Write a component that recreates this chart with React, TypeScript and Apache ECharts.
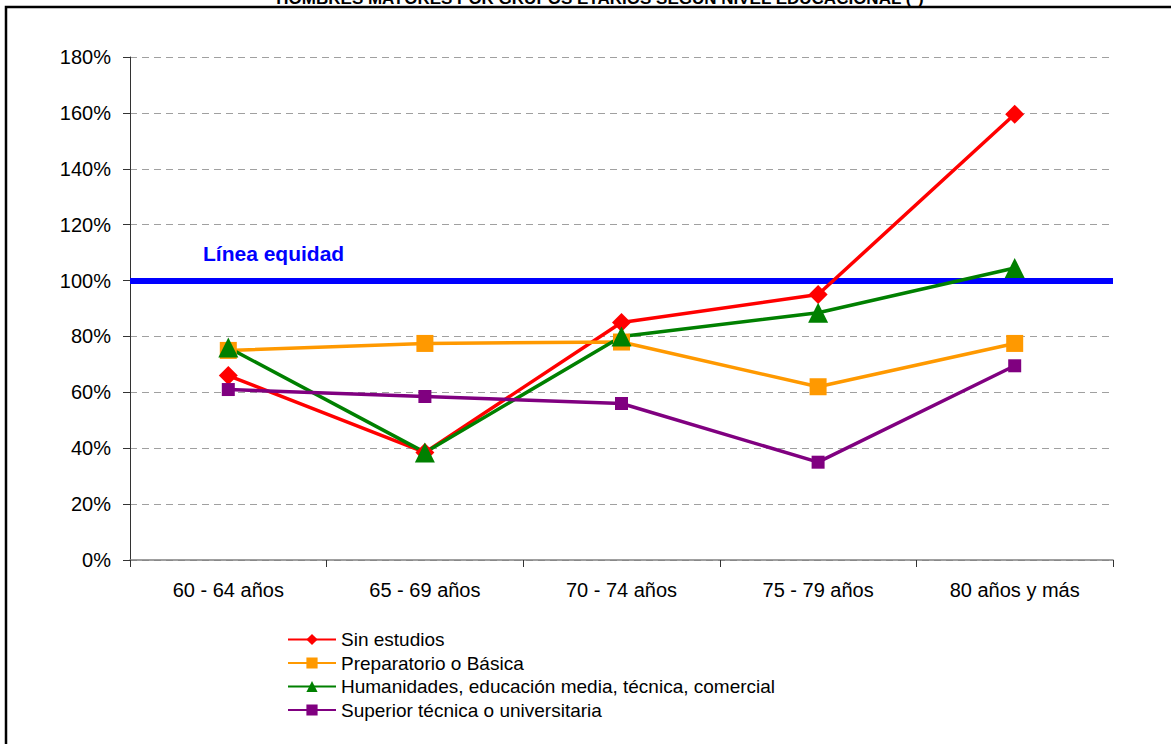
import React, { useEffect, useRef } from "react";
import * as echarts from "echarts";

const categories = ["60 - 64 años", "65 - 69 años", "70 - 74 años", "75 - 79 años", "80 años y más"];
const sinEstudios = [66, 38.5, 85, 95, 159.5];
const preparatorio = [75, 77.5, 78, 62, 77.5];
const humanidades = [76, 38.5, 80, 88.5, 104.5];
const superior = [61, 58.5, 56, 35, 69.5];
const equidad = 100;
const yTicks = [0, 20, 40, 60, 80, 100, 120, 140, 160, 180];

const FONT = "'Liberation Sans', Arial, sans-serif";

export default function App() {
  const ref = useRef<HTMLDivElement>(null);
  useEffect(() => {
    if (!ref.current) return;
    const chart = echarts.init(ref.current, null, { renderer: "svg" });
    const mk = (name: string, data: number[], color: string, symbol: string, size: number, extra: any = {}) => ({
      name,
      type: "line",
      data,
      symbol,
      symbolSize: size,
      lineStyle: { color, width: 3.5 },
      itemStyle: { color },
      z: 3,
      ...extra,
    });
    chart.setOption({
      animation: false,
      textStyle: { fontFamily: FONT },
      graphic: [
        {
          type: "rect",
          shape: { x: 6, y: 7, width: 1300, height: 900 },
          style: { fill: "none", stroke: "#000", lineWidth: 2.5 },
          z: 10,
        },
        {
          type: "text",
          x: 600,
          y: -10,
          style: {
            text: "HOMBRES MAYORES POR GRUPOS ETARIOS SEGÚN NIVEL EDUCACIONAL (*)",
            fill: "#000",
            font: `bold 17px ${FONT}`,
            textAlign: "center",
          },
        },
        {
          type: "text",
          x: 203,
          y: 243,
          style: {
            text: "Línea equidad",
            fill: "#0000ff",
            font: `bold 21px ${FONT}`,
          },
          z: 20,
        },
      ],
      grid: { left: 130, right: 58, top: 57, bottom: 184 },
      legend: {
        orient: "vertical",
        left: 287,
        top: 630,
        padding: 0,
        itemWidth: 48,
        itemHeight: 14,
        itemGap: 4.5,
        textStyle: { fontSize: 19, color: "#000", fontFamily: FONT, lineHeight: 18 },
        data: [
          "Sin estudios",
          "Preparatorio o Básica",
          "Humanidades, educación media, técnica, comercial",
          "Superior técnica o universitaria",
        ],
      },
      xAxis: {
        type: "category",
        data: categories,
        boundaryGap: true,
        axisLine: { lineStyle: { color: "#808080", width: 1.5 } },
        axisTick: { show: true, length: 7, lineStyle: { color: "#333" }, alignWithLabel: false },
        axisLabel: { fontSize: 20, color: "#000", margin: 20, fontFamily: FONT },
      },
      yAxis: {
        type: "value",
        min: yTicks[0],
        max: yTicks[yTicks.length - 1],
        interval: 20,
        axisLine: { show: true, lineStyle: { color: "#333" } },
        axisTick: { show: true, length: 7, lineStyle: { color: "#333" } },
        axisLabel: { fontSize: 20, color: "#000", margin: 19, formatter: "{value}%", fontFamily: FONT },
        splitLine: { lineStyle: { color: "#a0a0a0", type: [7, 5] } },
      },
      series: [
        mk("Sin estudios", sinEstudios, "#ff0000", "diamond", 19, {
          markLine: {
            silent: true,
            symbol: "none",
            label: { show: false },
            lineStyle: { color: "#0000ff", width: 6, type: "solid" },
            data: [{ yAxis: equidad }],
            z: 1,
          },
        }),
        mk("Preparatorio o Básica", preparatorio, "#ff9900", "rect", 17),
        mk("Humanidades, educación media, técnica, comercial", humanidades, "#008000", "triangle", 20),
        mk("Superior técnica o universitaria", superior, "#800080", "rect", 13),
      ],
    });
    return () => chart.dispose();
  }, []);
  return (
    <div
      ref={ref}
      style={{ position: "fixed", left: 0, top: 0, width: 1171, height: 744, background: "#fff" }}
    />
  );
}
